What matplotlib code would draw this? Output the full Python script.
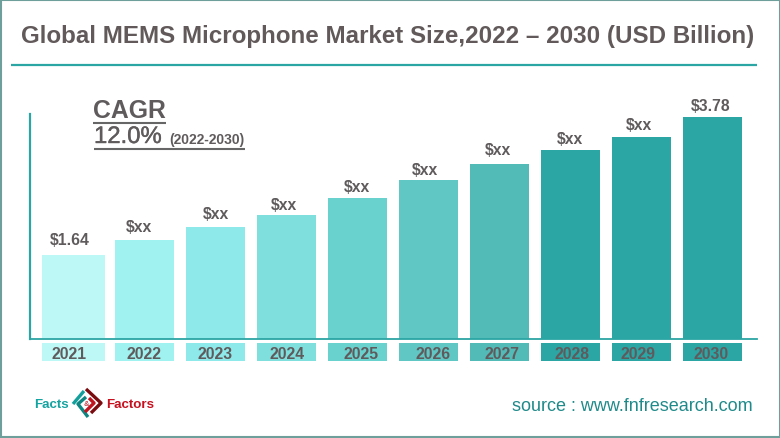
import matplotlib
matplotlib.use('Agg')
from matplotlib import pyplot as plt
from matplotlib import patheffects
from matplotlib.patches import Rectangle
from matplotlib.transforms import blended_transform_factory

years = ['2021', '2022', '2023', '2024', '2025', '2026', '2027', '2028', '2029', '2030']
values = [1.64, 1.87, 2.07, 2.26, 2.52, 2.80, 3.05, 3.26, 3.47, 3.78]
value_labels = ['$1.64', '$xx', '$xx', '$xx', '$xx', '$xx', '$xx', '$xx', '$xx', '$3.78']
colors = ['#bdf8f6', '#a0f2f1', '#8eeaea', '#7fdfdd', '#69d2cf',
          '#60c7c4', '#52bab7', '#2ca5a5', '#2ca5a5', '#2ca5a5']

# small hand offsets, the labels in the original are not centred (pixels)
label_dx = [-4, -6, 0, -3, -1, -4, -2, -1, -3, -2]
label_dy = [8, 6, 6, 3, 4, 3, 7, 4, 5, 4]
year_dx = [-4, -1, 0, 1, 4, 5, 3, 2, -3, -1]
widths = [0.885] + [0.83] * 9

TEAL = '#2ca5a5'
GREY = '#5f5b5d'
plt.rcParams['font.family'] = ['Liberation Sans', 'DejaVu Sans']

fig = plt.figure(figsize=(7.8, 4.39), dpi=100)

# pixel overlay for the title, frame and logo
bg = fig.add_axes([0, 0, 1, 1])
bg.set_xlim(0, 780)
bg.set_ylim(439, 0)
bg.axis('off')

bg.add_patch(Rectangle((0.5, 0.5), 779, 438, fill=False, ec='#6f9f9b', lw=1.5))
bg.text(387.5, 37, 'Global MEMS Microphone Market Size,2022 – 2030 (USD Billion)',
        ha='center', va='center', fontsize=17.4, fontweight='bold', color='#625a5a')
bg.plot([11, 757], [66, 66], color=TEAL, lw=1.6, solid_capstyle='butt')

bg.text(93, 111.5, 'CAGR', ha='left', va='center', fontsize=17.8, fontweight='bold', color=GREY)
bg.plot([93, 166], [123.5, 123.5], color='#666666', lw=1.5, solid_capstyle='butt')
t = bg.text(94, 138, '12.0%', ha='left', va='center', fontsize=17.2, color=GREY)
t.set_path_effects([patheffects.withStroke(linewidth=0.3, foreground=GREY)])
bg.text(169, 140, '(2022-2030)', ha='left', va='center', fontsize=10, fontweight='bold', color=GREY)
bg.plot([94, 245], [150, 150], color='#666666', lw=1.5, solid_capstyle='butt')

# chart
ax = fig.add_axes([30 / 780, (439 - 339.5) / 439, 727 / 780, 224.5 / 439])
ax.patch.set_alpha(0)
ax.bar(range(len(years)), values, width=widths, color=colors)
ax.set_xlim(-0.613, 9.627)
ax.set_ylim(0.338, 3.819)
ax.set_xticks([])
ax.set_yticks([])
for side in ['top', 'right']:
    ax.spines[side].set_visible(False)
ax.spines['left'].set_color(TEAL)
ax.spines['left'].set_linewidth(1.6)
ax.spines['bottom'].set_color(TEAL)
ax.spines['bottom'].set_linewidth(1.3)

for i, lab in enumerate(value_labels):
    ax.annotate(lab, (i, values[i]), xytext=(label_dx[i], label_dy[i]), textcoords='offset pixels',
                ha='center', va='bottom', fontsize=11.3, fontweight='bold', color=GREY)

# year chips under the axis
trans = blended_transform_factory(ax.transData, bg.transData)
for i, yr in enumerate(years):
    bg.add_patch(Rectangle((i - widths[i] / 2, 343.7), widths[i], 18.3, transform=trans,
                           color=colors[i], lw=0))
    bg.annotate(yr, (i, 354.5), xycoords=trans, xytext=(year_dx[i], 0), textcoords='offset pixels',
                ha='center', va='center', fontsize=11.3, fontweight='bold', color=GREY)

# footer
bg.text(753, 406.5, 'source : www.fnfresearch.com', ha='right', va='center',
        fontsize=13, color='#1f8a8a')

# logo
bg.text(34, 405.5, 'Facts', ha='left', va='center', fontsize=9.6, fontweight='bold', color='#13a3a0')
bg.text(106, 405.5, 'Factors', ha='left', va='center', fontsize=9.6, fontweight='bold', color='#c8101e')
bg.plot([73, 84], [405, 392], color='#13a09c', lw=2.4, solid_capstyle='butt')
bg.plot([86, 78, 88], [398, 405, 418], color='#0f8582', lw=2.4, solid_capstyle='butt')
bg.plot([86, 101, 91], [390, 404, 414], color='#7a0c10', lw=2.4, solid_capstyle='butt')
bg.plot([89, 94, 85], [399, 404, 413], color='#c0141e', lw=2.4, solid_capstyle='butt')
bg.text(86, 405, '&', ha='center', va='center', fontsize=5.5, fontweight='bold', color='#c8454d')

fig.savefig('out.png', dpi=100)
